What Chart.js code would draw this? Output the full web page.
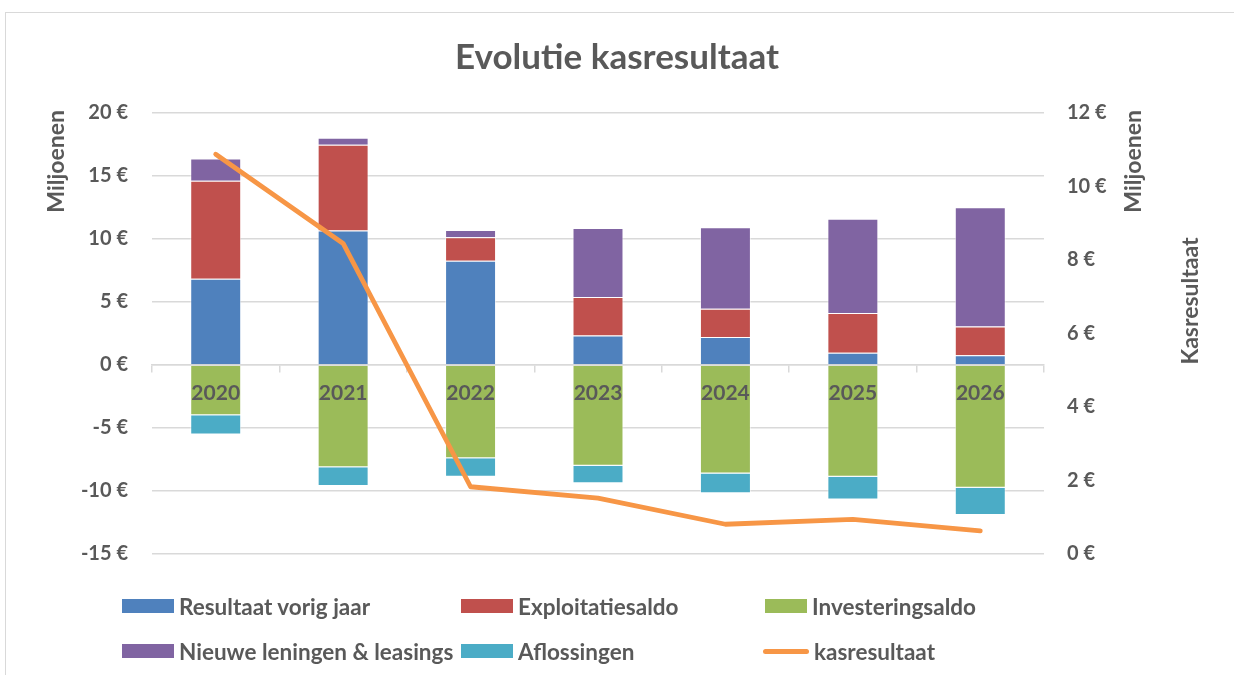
<!DOCTYPE html>
<html>
<head>
<meta charset="utf-8">
<script src="https://cdn.jsdelivr.net/npm/chart.js@4.4.1/dist/chart.umd.min.js"></script>
<style>
  html, body { margin: 0; padding: 0; background: #fff; }
  #wrap { position: relative; width: 1234px; height: 675px; overflow: hidden; }
  #c { position: absolute; left: 0; top: 0; }
  .lg { position: absolute; display: flex; align-items: center; font-family: Lato, "Open Sans", sans-serif; font-weight: bold; font-size: 22.5px; color: #595959; white-space: nowrap; }
  .lg .sw { display: inline-block; margin-right: 5px; }
</style>
</head>
<body>
<div id="wrap">
  <canvas id="c" width="1234" height="675"></canvas>
  <div id="legend"></div>
</div>
<script>
const categories = ['2020', '2021', '2022', '2023', '2024', '2025', '2026'];
const resultaatVorigJaar = [6.84, 10.67, 8.27, 2.35, 2.22, 0.98, 0.77];
const exploitatiesaldo   = [7.79, 6.82, 1.87, 3.04, 2.24, 3.14, 2.29];
const investeringsaldo   = [-3.99, -8.11, -7.40, -8.00, -8.61, -8.87, -9.75];
const nieuweLeningen     = [1.75, 0.55, 0.58, 5.49, 6.48, 7.48, 9.46];
const aflossingen        = [-1.53, -1.50, -1.47, -1.38, -1.56, -1.80, -2.16];
const kasresultaat       = [10.88, 8.45, 1.83, 1.52, 0.81, 0.94, 0.63];

const seriesNames = ['Resultaat vorig jaar', 'Exploitatiesaldo', 'Investeringsaldo', 'Nieuwe leningen & leasings', 'Aflossingen', 'kasresultaat'];
const colors = ['#4F81BD', '#C0504D', '#9BBB59', '#8064A2', '#4BACC6', '#F79646'];

const leftTicks = { min: -15, max: 20, step: 5 };
const rightTicks = { min: 0, max: 12, step: 2 };

const FONT = 'Lato, "Open Sans", sans-serif';
const TXT = '#595959';
const GRID = '#d9d9d9';

function barDs(i, data) {
  return {
    type: 'bar', label: seriesNames[i], data: data,
    backgroundColor: colors[i], borderColor: 'rgba(255,255,255,0.55)', borderWidth: 1,
    yAxisID: 'y', stack: 's', order: 1,
    barPercentage: 0.4, categoryPercentage: 1.0
  };
}

const framePlugin = {
  id: 'frame',
  beforeDraw(chart) {
    const ctx = chart.ctx;
    ctx.save();
    ctx.fillStyle = '#fff';
    ctx.fillRect(0, 0, chart.width, chart.height);
    ctx.strokeStyle = GRID;
    ctx.lineWidth = 1;
    ctx.strokeRect(5.5, 12.5, chart.width + 20, chart.height + 20);
    ctx.restore();
  }
};

const axisTitlePlugin = {
  id: 'axisTitles',
  afterDraw(chart) {
    const ctx = chart.ctx;
    const a = chart.chartArea;
    ctx.save();
    ctx.fillStyle = TXT;
    ctx.font = 'bold 23px ' + FONT;
    ctx.textBaseline = 'middle';
    ctx.save();
    ctx.translate(57, a.top - 3);
    ctx.rotate(-Math.PI / 2);
    ctx.textAlign = 'right';
    ctx.fillText('Miljoenen', 0, 0);
    ctx.restore();
    ctx.save();
    ctx.translate(a.right + 90, a.top - 3);
    ctx.rotate(-Math.PI / 2);
    ctx.textAlign = 'right';
    ctx.fillText('Miljoenen', 0, 0);
    ctx.restore();
    ctx.save();
    ctx.translate(a.right + 147, a.top + 188);
    ctx.rotate(-Math.PI / 2);
    ctx.textAlign = 'center';
    ctx.fillText('Kasresultaat', 0, 0);
    ctx.restore();
    ctx.restore();
  }
};

const chart = new Chart(document.getElementById('c'), {
  data: {
    labels: categories,
    datasets: [
      barDs(0, resultaatVorigJaar),
      barDs(1, exploitatiesaldo),
      barDs(2, investeringsaldo),
      barDs(3, nieuweLeningen),
      barDs(4, aflossingen),
      {
        type: 'line', label: seriesNames[5], data: kasresultaat,
        borderColor: colors[5], backgroundColor: colors[5], borderWidth: 4.8,
        pointRadius: 0, pointHoverRadius: 0, tension: 0,
        borderCapStyle: 'round', borderJoinStyle: 'round',
        yAxisID: 'y1', order: -1
      }
    ]
  },
  options: {
    responsive: false,
    animation: false,
    layout: { padding: { left: 0, right: 0, top: 0, bottom: 121 } },
    plugins: {
      legend: { display: false },
      tooltip: { enabled: false },
      title: {
        display: true, text: 'Evolutie kasresultaat', color: TXT,
        font: { family: FONT, size: 35, weight: 'bold' },
        padding: { top: 37, bottom: 34 }
      }
    },
    scales: {
      x: {
        stacked: true,
        position: { y: 0 },
        offset: true,
        grid: { drawOnChartArea: false, drawTicks: true, tickLength: 7, color: GRID, lineWidth: 1.5, offset: true },
        border: { display: true, color: GRID, width: 1.5 },
        ticks: { z: 1, color: TXT, font: { family: FONT, size: 21, weight: 'bold' }, padding: 9, maxRotation: 0 }
      },
      y: {
        stacked: true, position: 'left',
        min: leftTicks.min, max: leftTicks.max,
        afterFit(s) { s.width = 152; },
        grid: { color: GRID, lineWidth: 1.5, drawTicks: false },
        border: { display: false },
        ticks: {
          stepSize: leftTicks.step, color: TXT, padding: 24,
          font: { family: FONT, size: 20, weight: 'bold' },
          callback: v => v + ' €'
        }
      },
      y1: {
        stacked: false, position: 'right',
        min: rightTicks.min, max: rightTicks.max,
        afterFit(s) { s.width = 190; },
        grid: { display: false, drawTicks: false },
        border: { display: false },
        ticks: {
          stepSize: rightTicks.step, color: TXT, padding: 23,
          font: { family: FONT, size: 20, weight: 'bold' },
          callback: v => v + ' €'
        }
      }
    }
  },
  plugins: [framePlugin, axisTitlePlugin]
});

const legendPos = [
  { left: 122, top: 606, w: 52 }, { left: 461, top: 606, w: 52 }, { left: 765, top: 606, w: 42 },
  { left: 122, top: 651, w: 52 }, { left: 461, top: 651, w: 52 }, { left: 763, top: 651, w: 46 }
];
const lgEl = document.getElementById('legend');
chart.data.datasets.forEach((ds, k) => {
  const p = legendPos[k];
  const item = document.createElement('div');
  item.className = 'lg';
  item.style.left = p.left + 'px';
  item.style.top = (p.top - 14) + 'px';
  item.style.height = '28px';
  const sw = document.createElement('span');
  sw.className = 'sw';
  sw.style.width = p.w + 'px';
  if (ds.type === 'line') {
    sw.style.height = '5px';
    sw.style.borderRadius = '3px';
  } else {
    sw.style.height = '14px';
  }
  sw.style.background = ds.backgroundColor;
  item.appendChild(sw);
  const t = document.createElement('span');
  t.textContent = ds.label;
  item.appendChild(t);
  lgEl.appendChild(item);
});
</script>
</body>
</html>
